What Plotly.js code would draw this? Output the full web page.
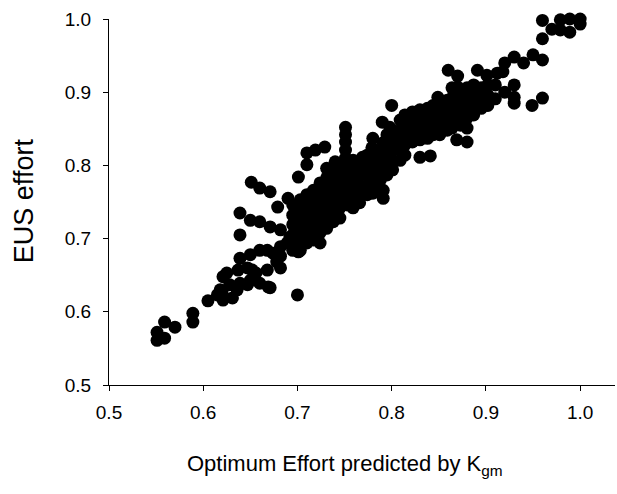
<!DOCTYPE html>
<html>
<head>
<meta charset="utf-8">
<script src="https://cdn.plot.ly/plotly-3.0.1.min.js"></script>
<style>html,body{margin:0;padding:0;background:#fff;}</style>
</head>
<body>
<div id="chart" style="width:617px;height:494px;"></div>
<script>
// Tick labels
const xTicks = [0.5, 0.6, 0.7, 0.8, 0.9, 1.0];
const xTickLabels = ['0.5', '0.6', '0.7', '0.8', '0.9', '1.0'];
const yTicks = [0.5, 0.6, 0.7, 0.8, 0.9, 1.0];
const yTickLabels = ['0.5', '0.6', '0.7', '0.8', '0.9', '1.0'];

// Low tail of points
const tailX = [0.551,0.559,0.570,0.551,0.559,0.589,0.589,0.605];
const tailY = [0.572,0.586,0.579,0.561,0.564,0.598,0.586,0.615];

// Left cluster (0.61 - 0.70)
const leftX = [0.621,0.620,0.621,0.628,0.631,0.625,0.618,0.615,0.637,0.647,0.652,0.639,0.650,0.660,0.639,0.639,0.650,0.660,0.671,0.682,0.651,0.660,0.671,0.679,0.690,0.701,0.700,0.669,0.660,0.682,0.678,0.668,0.674,0.682,0.689,0.695,0.701,0.692,0.697,0.682,0.668,0.656,0.650,0.639,0.636,0.647,0.671];
const leftY = [0.648,0.627,0.616,0.637,0.619,0.653,0.630,0.623,0.657,0.660,0.657,0.673,0.678,0.684,0.705,0.735,0.725,0.723,0.716,0.712,0.777,0.769,0.764,0.743,0.755,0.784,0.623,0.634,0.639,0.660,0.668,0.684,0.680,0.689,0.694,0.684,0.682,0.702,0.698,0.676,0.657,0.653,0.643,0.639,0.630,0.637,0.633];

// Scattered points around the band
const outerX = [0.710,0.710,0.719,0.729,0.751,0.751,0.751,0.751,0.751,0.740,0.769,0.769,0.780,0.790,0.798,0.800,0.791,0.798,0.779,0.791,0.791,0.830,0.841,0.849,0.860,0.870,0.870,0.891,0.901,0.912,0.869,0.880,0.920,0.918,0.930,0.940,0.950,0.960,0.930,0.930,0.930,0.920,0.910,0.960,0.949];
const outerY = [0.817,0.801,0.821,0.825,0.852,0.842,0.832,0.821,0.810,0.805,0.811,0.798,0.837,0.859,0.852,0.882,0.831,0.828,0.824,0.766,0.755,0.811,0.813,0.893,0.930,0.922,0.907,0.930,0.923,0.926,0.835,0.832,0.940,0.928,0.948,0.940,0.951,0.944,0.910,0.893,0.885,0.900,0.891,0.892,0.882];

// Top-right cluster near 1.0
const topX = [0.960,0.960,0.979,0.989,1.000,1.000,0.989,0.979,0.970];
const topY = [0.998,0.973,0.999,1.000,1.000,0.993,0.982,0.985,0.986];

// Dense central band, by x column
const bandColX = [0.695,0.703,0.710,0.717,0.724,0.731,0.738,0.745,
                  0.753,0.759,0.766,0.774,0.780,0.788,0.795,0.801,0.809,
                  0.814,0.822,0.830,0.838,0.844,0.851,0.859,
                  0.864,0.873,0.880,0.887,0.895,0.902,0.910];
const bandColY = [
  [0.746,0.732,0.719,0.705,0.691],
  [0.753,0.739,0.725,0.712,0.698,0.684],
  [0.760,0.746,0.732,0.719,0.705,0.694],
  [0.766,0.753,0.739,0.725,0.712,0.698],
  [0.776,0.762,0.749,0.735,0.721,0.708,0.694],
  [0.796,0.783,0.769,0.755,0.742,0.728,0.714],
  [0.791,0.777,0.764,0.750,0.736,0.723],
  [0.796,0.783,0.769,0.755,0.742,0.728],
  [0.801,0.787,0.773,0.760,0.746],
  [0.807,0.794,0.780,0.766,0.753,0.742],
  [0.787,0.773,0.760,0.749],
  [0.814,0.801,0.787,0.773,0.760],
  [0.814,0.801,0.787,0.773,0.762],
  [0.821,0.807,0.794,0.780],
  [0.842,0.814,0.801,0.787],
  [0.848,0.835,0.821,0.807,0.794],
  [0.862,0.848,0.835,0.821,0.807],
  [0.869,0.855,0.842,0.828,0.814],
  [0.873,0.859,0.846,0.832],
  [0.876,0.862,0.848,0.835],
  [0.878,0.865,0.851,0.837],
  [0.882,0.869,0.855,0.842],
  [0.882,0.869,0.855,0.842],
  [0.889,0.876,0.862,0.848],
  [0.906,0.892,0.878,0.865,0.851],
  [0.896,0.882,0.869,0.855],
  [0.906,0.892,0.878,0.865,0.851],
  [0.910,0.896,0.882,0.869],
  [0.906,0.892,0.878],
  [0.910,0.896,0.882],
  [0.910]
];

const bandX = [], bandY = [];
bandColX.forEach((x, i) => bandColY[i].forEach(y => { bandX.push(x); bandY.push(y); }));

const allX = [].concat(tailX, leftX, bandX, outerX, topX);
const allY = [].concat(tailY, leftY, bandY, outerY, topY);

const trace = {
  type: 'scatter',
  mode: 'markers',
  x: allX,
  y: allY,
  cliponaxis: false,
  marker: {size: 13, color: '#000', line: {width: 0}},
  hoverinfo: 'skip'
};

const font = 'Liberation Sans, Arial, Helvetica, sans-serif';

const layout = {
  width: 617, height: 494,
  margin: {l: 109, r: 2, t: 19, b: 109},
  paper_bgcolor: '#fff', plot_bgcolor: '#fff',
  showlegend: false,
  font: {family: font, color: '#000'},
  xaxis: {
    range: [0.5, 1.037], tickvals: xTicks, ticktext: xTickLabels,
    ticks: 'outside', ticklen: 5, tickwidth: 1, tickcolor: '#000',
    showline: true, linecolor: '#000', linewidth: 1,
    showgrid: false, zeroline: false,
    tickfont: {size: 19, family: font, color: '#000'},
    ticklabelstandoff: 5
  },
  yaxis: {
    range: [0.5, 1.0], tickvals: yTicks, ticktext: yTickLabels,
    ticks: 'outside', ticklen: 5, tickwidth: 1, tickcolor: '#000',
    showline: true, linecolor: '#000', linewidth: 1,
    showgrid: false, zeroline: false,
    tickfont: {size: 19, family: font, color: '#000'},
    ticklabelstandoff: 8
  },
  annotations: [
    {
      text: 'Optimum Effort predicted by K<sub>gm</sub>',
      xref: 'paper', yref: 'paper', x: 0.466, y: -0.219,
      xanchor: 'center', yanchor: 'middle', showarrow: false,
      font: {size: 22, family: font, color: '#000'}
    },
    {
      text: 'EUS effort',
      xref: 'paper', yref: 'paper', x: -0.168, y: 0.505,
      xanchor: 'center', yanchor: 'middle', showarrow: false, textangle: -90,
      font: {size: 27, family: font, color: '#000'}
    }
  ]
};

Plotly.newPlot('chart', [trace], layout, {displayModeBar: false, staticPlot: true});
</script>
</body>
</html>
